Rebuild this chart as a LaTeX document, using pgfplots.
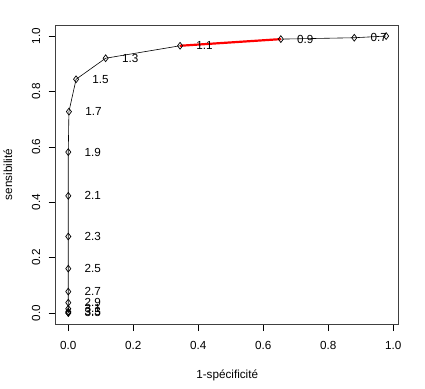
\documentclass[border=0pt]{standalone}
\usepackage{pgfplots}
\pgfplotsset{compat=1.18}
\usepackage{pgfplotstable}
\usepackage{fontspec}
\setmainfont{Liberation Sans}
\pgfplotstableread{
x y lab
0 0 {}
0 0 3.5
0 0.005 3.3
0 0.015 3.1
0 0.037 2.9
0 0.077 2.7
0 0.160 2.5
0 0.276 2.3
0 0.423 2.1
0 0.581 1.9
0.002 0.727 1.7
0.024 0.844 1.5
0.115 0.920 1.3
0.344 0.965 1.1
0.654 0.989 0.9
0.880 0.994 0.7
0.978 1.000 {}
}\roc
\begin{document}
\begin{tikzpicture}[font=\fontsize{11.7}{14}\selectfont]
\useasboundingbox (0pt,0pt) rectangle (425pt,388pt);
\begin{axis}[
  at={(55.6pt,64pt)}, anchor=south west,
  scale only axis, width=343.2pt, height=299pt,
  xmin=-0.039, xmax=1.017, ymin=-0.04, ymax=1.04,
  xtick={0,0.2,...,1.0}, ytick={0,0.2,...,1.0},
  xticklabels={0.0,0.2,0.4,0.6,0.8,1.0},
  yticklabels={},
  tick align=outside, major tick length=7pt,
  xtick pos=bottom, ytick pos=left,
  tick style={black, line width=0.6pt},
  axis line style={black!75, line width=0.8pt},
  /pgf/number format/assume math mode=true,
  xticklabel style={anchor=north, inner sep=0pt, yshift=-10pt},
  clip=false,
]
\addplot[black, line width=0.6pt, mark=diamond, mark size=3.4pt,
  mark options={solid, fill=none, line width=0.7pt},
  nodes near coords, point meta=explicit symbolic,
  every node near coord/.style={anchor=west, xshift=16pt, inner sep=0pt, font=\fontsize{11.7}{14}\selectfont, black}
] table[x=x, y=y, meta=lab] {\roc};
\addplot[red, line width=2.2pt, no marks] coordinates {(0.344,0.965) (0.654,0.989)};
\path (axis cs:-0.039,0.0) ++(-19.6pt,0pt) node[rotate=90] {0.0};
\path (axis cs:-0.039,0.2) ++(-19.6pt,0pt) node[rotate=90] {0.2};
\path (axis cs:-0.039,0.4) ++(-19.6pt,0pt) node[rotate=90] {0.4};
\path (axis cs:-0.039,0.6) ++(-19.6pt,0pt) node[rotate=90] {0.6};
\path (axis cs:-0.039,0.8) ++(-19.6pt,0pt) node[rotate=90] {0.8};
\path (axis cs:-0.039,1.0) ++(-19.6pt,0pt) node[rotate=90] {1.0};
\end{axis}
\node at (227.2pt,13pt) {1-spécificité};
\node[rotate=90] at (8pt,213.5pt) {sensibilité};
\end{tikzpicture}
\end{document}
